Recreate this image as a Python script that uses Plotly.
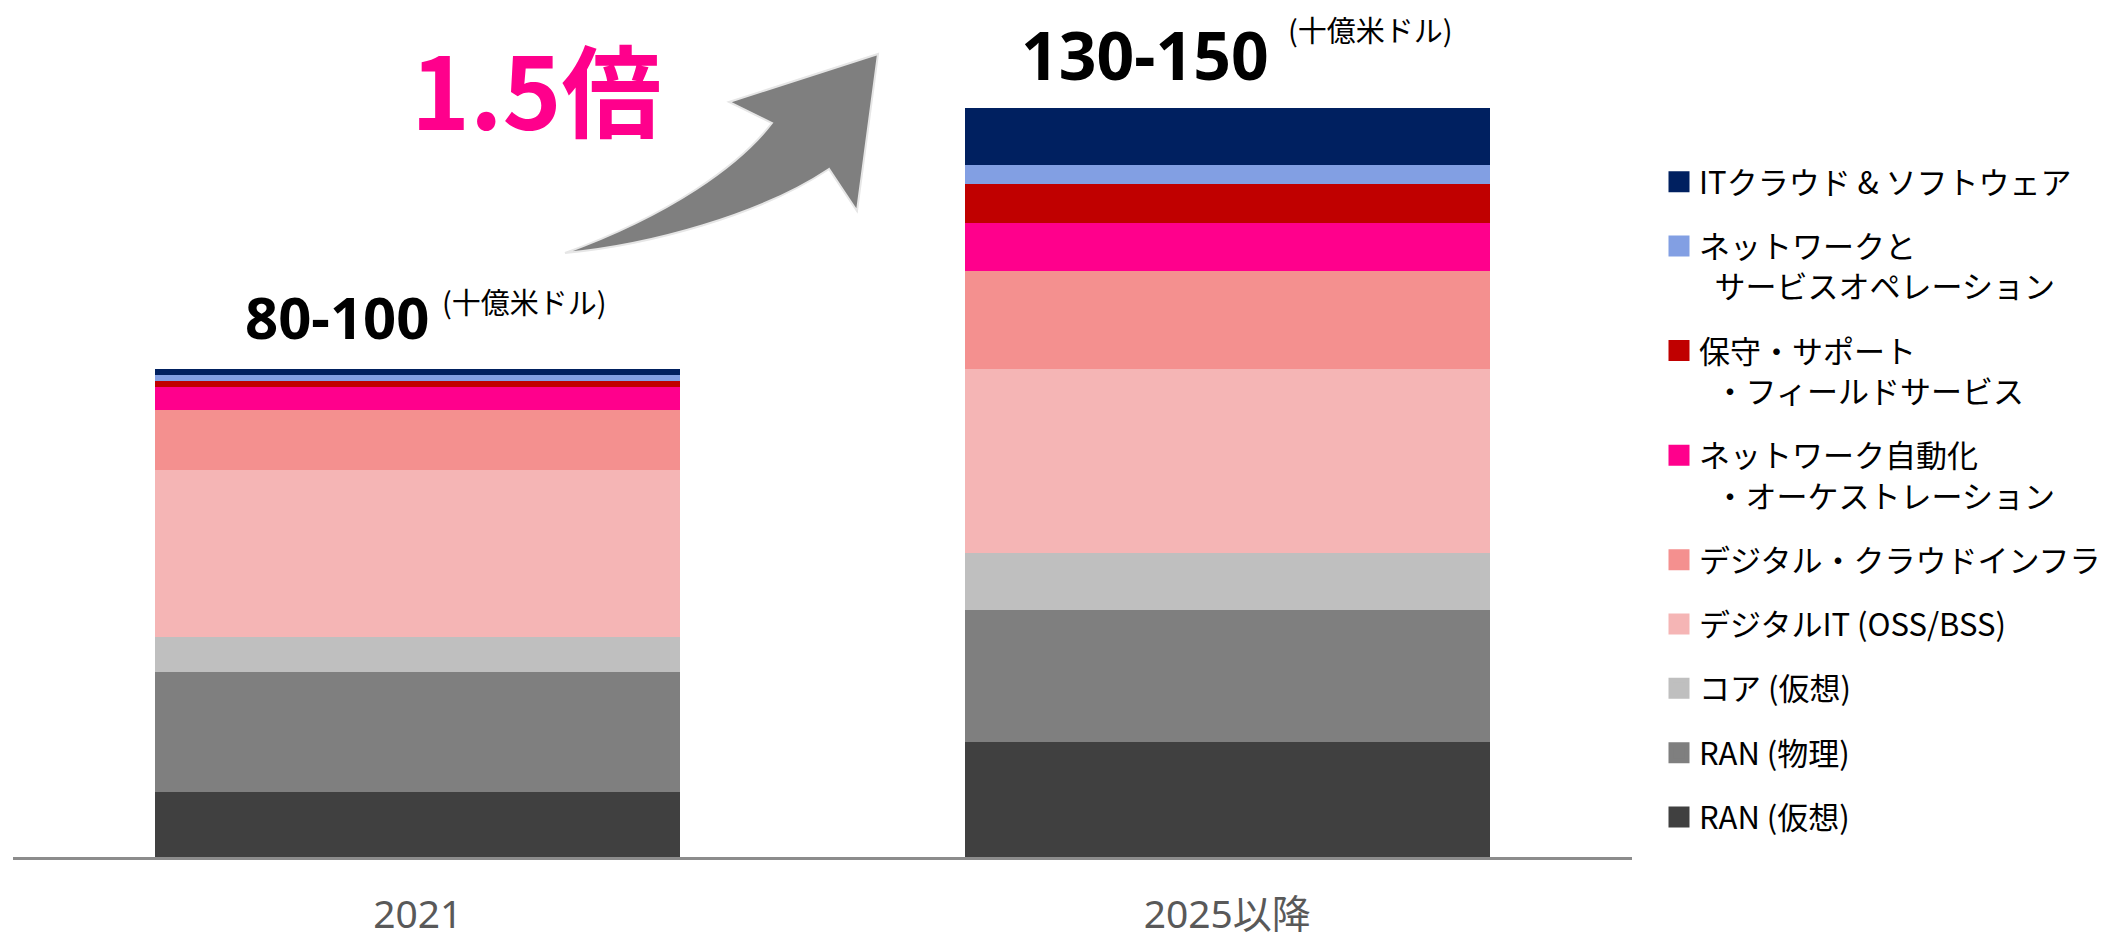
import plotly.graph_objects as go

# ---------------- data ----------------
categories = ["2021", "2025以降"]

# stacked segments, bottom -> top (十億米ドル)
ran_virtual = [12.2, 21.5]
ran_physical = [22.5, 24.7]
core_virtual = [6.5, 10.6]
digital_it = [31.2, 34.5]
digital_cloud_infra = [11.2, 18.3]
network_automation = [4.3, 9.0]
maintenance_support = [1.1, 7.3]
network_service_ops = [1.25, 3.5]
it_cloud_software = [1.0, 10.7]

series_names = [
    "RAN (仮想)",
    "RAN (物理)",
    "コア (仮想)",
    "デジタルIT (OSS/BSS)",
    "デジタル・クラウドインフラ",
    "ネットワーク自動化<br>\u2002・オーケストレーション",
    "保守・サポート<br>\u2002・フィールドサービス",
    "ネットワークと<br>\u2002サービスオペレーション",
    "ITクラウド & ソフトウェア",
]
series_values = [
    ran_virtual,
    ran_physical,
    core_virtual,
    digital_it,
    digital_cloud_infra,
    network_automation,
    maintenance_support,
    network_service_ops,
    it_cloud_software,
]
series_colors = [
    "#404040",
    "#7F7F7F",
    "#BFBFBF",
    "#F5B5B5",
    "#F4908F",
    "#FF008C",
    "#C00000",
    "#829FE3",
    "#002060",
]

range_labels = ["80-100", "130-150"]
unit_label = "(十億米ドル)"
growth_label = "1.5倍"

# ---------------- layout geometry ----------------
OFF = 8                      # page body margin of the html page
W, H = 2111 - OFF, 939 - OFF
ML, MR, MT, MB = 13 - OFF, 0, 2, 82
PW = W - ML - MR
PH = H - MT - MB
AXIS_RIGHT = 1632 - OFF
PX_PER_UNIT = 5.344
YMAX = PH / PX_PER_UNIT

def px(x, y):
    """page pixel position -> paper coordinates"""
    x, y = x - OFF, y - OFF
    return (x - ML) / PW, (H - MB - y) / PH

fig = go.Figure()

# stacked bars
for name, vals, col in zip(series_names, series_values, series_colors):
    fig.add_trace(go.Bar(
        x=categories, y=vals, name=name,
        marker=dict(color=col, line=dict(width=0)),
        showlegend=False,
    ))

# legend entries (top -> bottom), bigger square symbols
for i, (name, col) in enumerate(zip(series_names[::-1], series_colors[::-1])):
    fig.add_trace(go.Scatter(
        x=[None], y=[None], mode="markers", name=name,
        legendgroup="g%d" % i,
        marker=dict(symbol="square", size=16, color=col, line=dict(color=col, width=5)),
        showlegend=True, hoverinfo="skip",
    ))

totals = [sum(v[i] for v in series_values) for i in range(len(categories))]

annotations = []
big_sizes = [58, 66]
lab_shift = [(13, 53), (44, 54)]
unit_shift = [(22, 68), (59, 79)]
for i, cat in enumerate(categories):
    annotations.append(dict(
        x=i, y=totals[i], xref="x", yref="y",
        text="<b>%s</b>" % range_labels[i], showarrow=False,
        xanchor="right", yanchor="middle",
        xshift=lab_shift[i][0], yshift=lab_shift[i][1],
        font=dict(family="Noto Sans, Noto Sans CJK JP", size=big_sizes[i], color="#000000"),
    ))
    annotations.append(dict(
        x=i, y=totals[i], xref="x", yref="y",
        text=unit_label, showarrow=False,
        xanchor="left", yanchor="middle",
        xshift=unit_shift[i][0], yshift=unit_shift[i][1],
        font=dict(family="Noto Sans CJK JP", size=29, color="#000000"),
    ))

gx, gy = px(536, 86)
annotations.append(dict(
    x=gx, y=gy, xref="paper", yref="paper", text="<b>%s</b>" % growth_label,
    showarrow=False, xanchor="center", yanchor="middle",
    font=dict(family="Noto Sans CJK JP", size=100, color="#FF008C"),
))

# curved arrow (decoration)
def P(x, y):
    a, b = px(x, y)
    return "%.5f,%.5f" % (a, b)

arrow_path = (
    "M" + P(565, 253)
    + " C" + P(650, 245) + " " + P(760, 215) + " " + P(829, 169)
    + " L" + P(857, 211)
    + " L" + P(878, 54)
    + " L" + P(729, 102)
    + " L" + P(772, 123)
    + " C" + P(740, 165) + " " + P(670, 215) + " " + P(565, 253)
    + " Z"
)

lx, ly = px(1659, 155)

fig.update_layout(
    width=W, height=H,
    margin=dict(l=ML, r=MR, t=MT, b=MB, pad=0, autoexpand=False),
    paper_bgcolor="#FFFFFF", plot_bgcolor="#FFFFFF",
    barmode="stack", bargap=0.352,
    xaxis=dict(
        type="category", range=[-0.5, 1.5],
        domain=[0, (AXIS_RIGHT - ML) / PW],
        showline=True, linecolor="#8C8C8C", linewidth=3,
        ticks="outside", ticklen=21, tickcolor="rgba(0,0,0,0)",
        tickfont=dict(family="Noto Sans, Noto Sans CJK JP", size=39, color="#595959"),
        showgrid=False, zeroline=False, fixedrange=True, automargin=False,
    ),
    yaxis=dict(range=[0, YMAX], visible=False, showgrid=False, zeroline=False,
               automargin=False),
    legend=dict(
        x=lx, y=ly, xanchor="left", yanchor="top",
        font=dict(family="Noto Sans CJK JP", size=31, color="#000000"),
        traceorder="grouped", tracegroupgap=21, valign="top",
        bgcolor="rgba(0,0,0,0)", borderwidth=0,
    ),
    shapes=[dict(
        type="path", xref="paper", yref="paper", path=arrow_path,
        fillcolor="#7F7F7F", line=dict(color="#E6E6E6", width=2), layer="above",
    )],
    annotations=annotations,
    showlegend=True,
)

fig.write_html("out.html")
